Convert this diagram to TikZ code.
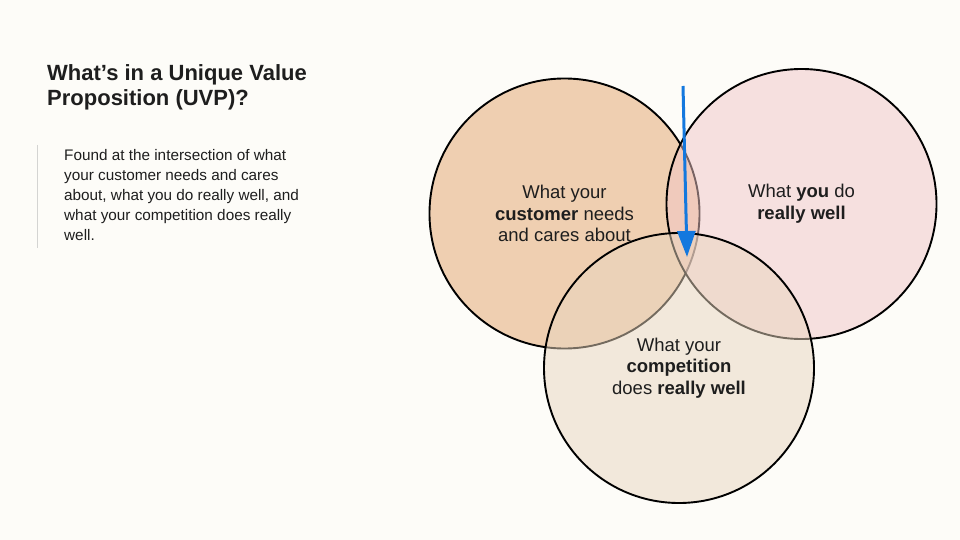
\documentclass[tikz,border=0pt]{standalone}
\usepackage{fontspec}
\setmainfont{Liberation Sans}
\usetikzlibrary{arrows.meta}
\definecolor{UVPPaper}{HTML}{FDFCF8}
\definecolor{UVPTan}{HTML}{EFCFB1}
\definecolor{UVPPink}{HTML}{F1C6C7}
\definecolor{UVPSand}{HTML}{E9D6BF}
\definecolor{UVPBlue}{HTML}{1478DE}
\definecolor{UVPRule}{HTML}{D4D4D2}
\definecolor{UVPInk}{HTML}{1E1E1E}

\begin{document}
\begin{tikzpicture}[x=1pt,y=-1pt,
  venn/.style={circle,draw=black,line width=1.9pt,minimum size=270pt,inner sep=0pt,
    align=center,text=UVPInk,text opacity=1,font=\fontsize{18.5}{21.7}\selectfont}]
\fill[UVPPaper] (0,0) rectangle (960,540);
\path[use as bounding box] (0,0) rectangle (960,540);
\node[anchor=north west,inner sep=0pt,align=left,text=UVPInk,font=\bfseries\fontsize{22}{25}\selectfont] (title) at (47,64.5) {What’s in a Unique Value\\Proposition (UVP)?};
\draw[UVPRule,line width=1pt] (37,145) -- (37,248);
\node[anchor=north west,inner sep=0pt,align=left,text=UVPInk,font=\fontsize{15.3}{20}\selectfont] (intro) at (64,149.5) {Found at the intersection of what\\your customer needs and cares\\about, what you do really well, and\\what your competition does really\\well.};
\node[venn,fill=UVPTan] (customer) at (564.5,213.5) {What your\\\textbf{customer} needs\\and cares about};
\node[venn,fill=UVPPink,fill opacity=0.5] (you) at (801.5,204) {What \textbf{you} do\\\textbf{really well}};
\node[venn,fill=UVPSand,fill opacity=0.5] (rivals) at (679,368) {What your\\\textbf{competition}\\does \textbf{really well}};
\coordinate (arrowtop) at (683,86);
\coordinate (arrowtip) at (687,257);
\draw[UVPBlue,line width=3pt,-{Triangle[length=26pt,width=18pt]}] (arrowtop) -- (arrowtip);
\end{tikzpicture}
\end{document}
